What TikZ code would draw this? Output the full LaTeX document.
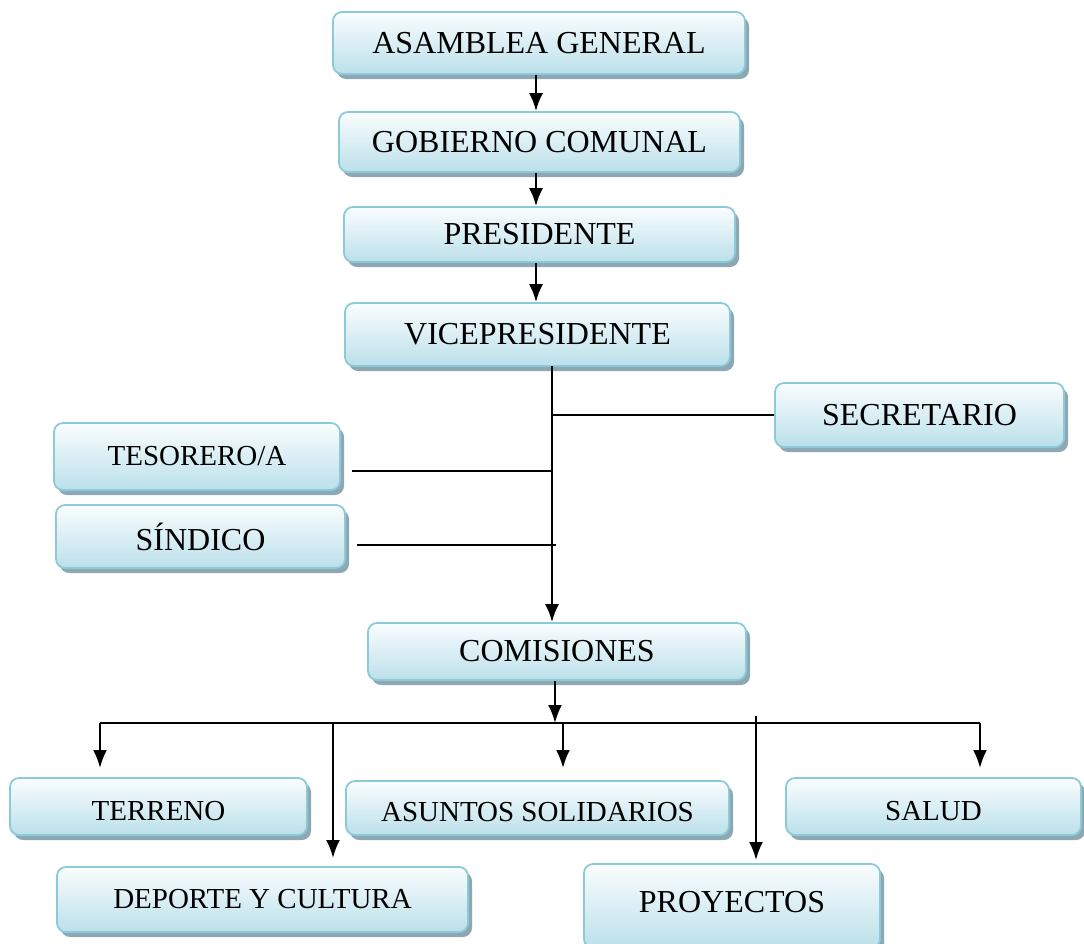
\documentclass[tikz,border=0pt]{standalone}
\usepackage{fontspec}
\setmainfont{Liberation Serif}
\usetikzlibrary{shadows,arrows.meta}
\definecolor{boxline}{HTML}{8CCAD9}
\definecolor{boxbot}{HTML}{BBE0EA}
\definecolor{boxtop}{HTML}{FAFDFE}
\definecolor{shadowc}{HTML}{8DA8B2}
\tikzset{
  box/.style={draw=boxline, line width=1.8pt, rounded corners=9pt,
    top color=boxtop, bottom color=boxbot, inner sep=0pt,
    drop shadow={shadow xshift=4pt, shadow yshift=-5pt, fill=shadowc, opacity=1},
    font=\fontsize{32}{36}\selectfont, text=black},
  sbox/.style={box, font=\fontsize{29}{33}\selectfont},
  lowtext/.style={text height=27pt, text depth=0pt},
  conn/.style={draw=black, line width=2.2pt},
  arr/.style={conn, -{Latex[length=18pt,width=14pt]}},
}
\begin{document}
\begin{tikzpicture}[x=1pt,y=-1pt]
\useasboundingbox (0,0) rectangle (1084,943);
% nodes
\node[box, minimum width=412pt, minimum height=62pt] (asam) at (539,43) {ASAMBLEA GENERAL};
\node[box, minimum width=401pt, minimum height=60pt] (gob) at (539.5,142) {GOBIERNO COMUNAL};
\node[box, minimum width=391pt, minimum height=55pt] (pres) at (539.5,234.5) {PRESIDENTE};
\node[box, minimum width=385pt, minimum height=63pt] (vice) at (537.5,334.5) {VICEPRESIDENTE};
\node[box, minimum width=289pt, minimum height=64pt] (sec) at (919.5,415) {SECRETARIO};
\node[sbox, minimum width=286pt, minimum height=67pt] (tes) at (197,456.5) {TESORERO/A};
\node[box, minimum width=289pt, minimum height=63pt] (sin) at (200.5,536.5) {SÍNDICO};
\node[box, minimum width=378pt, minimum height=57pt] (com) at (557,651.5) {COMISIONES};
\node[sbox, lowtext, minimum width=297pt, minimum height=57pt] (ter) at (158.5,806.5) {TERRENO};
\node[sbox, lowtext, minimum width=383pt, minimum height=54pt] (asu) at (537.5,808) {ASUNTOS SOLIDARIOS};
\node[sbox, lowtext, minimum width=295pt, minimum height=57pt] (sal) at (933.5,806.5) {SALUD};
\node[sbox, minimum width=411pt, minimum height=65pt] (dep) at (262.5,899.5) {DEPORTE Y CULTURA};
\node[box, minimum width=296pt, minimum height=84pt, text height=21pt, text depth=9pt] (pro) at (732,906) {PROYECTOS};
% coordinates
\coordinate (mtop) at (552,366);
\coordinate (jsec) at (552,415);
\coordinate (jtes) at (552,471);
\coordinate (jsin) at (556,545);
\coordinate (etes) at (352,471);
\coordinate (esin) at (357,545);
\coordinate (hl) at (100,723);
\coordinate (hr) at (980,723);
\coordinate (hc) at (555,723);
\coordinate (hasu) at (563,723);
\coordinate (hdep) at (333,723);
\coordinate (hpro) at (756,716);
\coordinate (tter) at (100,768);
\coordinate (tasu) at (563,768);
\coordinate (tsal) at (980,768);
\coordinate (tdep) at (333,858);
\coordinate (tpro) at (756,860);
% connectors
\draw[arr] (536,0 |- asam.south) -- (536,0 |- gob.north);
\draw[arr] (536,0 |- gob.south) -- (536,0 |- pres.north);
\draw[arr] (536,0 |- pres.south) -- (536,0 |- vice.north);
\draw[arr] (mtop) -- (552,0 |- com.north);
\draw[conn] (jsec) -- (jsec -| sec.west);
\draw[conn] (etes) -- (jtes);
\draw[conn] (esin) -- (jsin);
\draw[arr] (555,0 |- com.south) -- (hc);
\draw[conn] (hl) -- (hr);
\draw[arr] (hl) -- (tter);
\draw[arr] (hasu) -- (tasu);
\draw[arr] (hr) -- (tsal);
\draw[arr] (hdep) -- (tdep);
\draw[arr] (hpro) -- (tpro);
\end{tikzpicture}
\end{document}
